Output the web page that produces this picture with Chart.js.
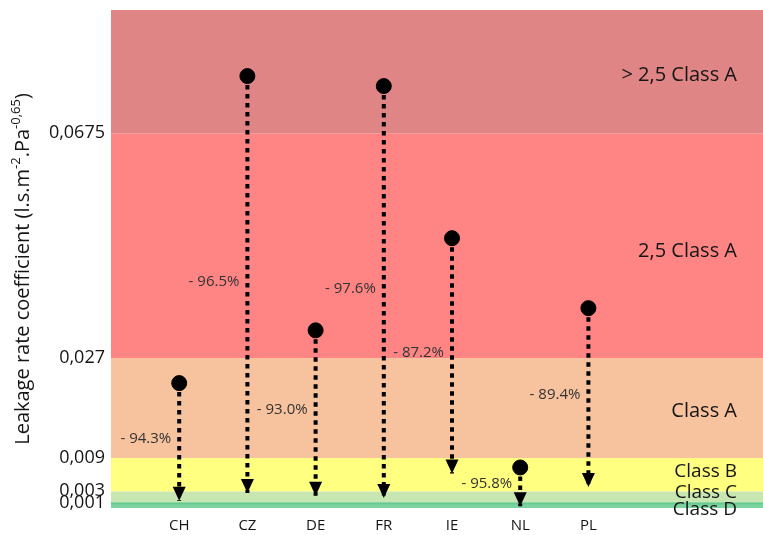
<!DOCTYPE html>
<html>
<head>
<meta charset="utf-8">
<script src="https://cdn.jsdelivr.net/npm/chart.js@4.4.1/dist/chart.umd.min.js"></script>
<style>
  html, body { margin: 0; padding: 0; background: #fff; }
  #wrap { width: 763px; height: 535px; }
</style>
</head>
<body>
<div id="wrap"><canvas id="leakChart"></canvas></div>
<script>
const countries = ['CH', 'CZ', 'DE', 'FR', 'IE', 'NL', 'PL'];
const before = [0.0225, 0.0778, 0.0320, 0.0760, 0.0486, 0.0073, 0.0360];
const after = [0.0013, 0.0027, 0.0022, 0.0018, 0.0062, 0.0003, 0.0038];
const reduction = ['- 94.3%', '- 96.5%', '- 93.0%', '- 97.6%', '- 87.2%', '- 95.8%', '- 89.4%'];
const yTicks = [0.001, 0.003, 0.009, 0.027, 0.0675];
const bandEdges = [0, 0.001, 0.003, 0.009, 0.027, 0.0675, 0.0897];
const bandNames = ['Class D', 'Class C', 'Class B', 'Class A', '2,5 Class A', '> 2,5 Class A'];

const bandColors = ['#7dd3a0', '#c8e6b1', '#ffff80', '#f7c39e', '#ff8585', '#e08585'];
const labelNudge = [4, -4, -3, 3, 6, 4];
const labelSize = [19, 19, 19, 20, 20, 20];
const FONT = '"Open Sans", sans-serif';

// coloured class bands + their names on the right
const bandsPlugin = {
  id: 'bands',
  beforeDatasetsDraw(chart) {
    const { ctx, chartArea, scales: { y } } = chart;
    ctx.save();
    for (let i = 0; i < bandNames.length; i++) {
      const top = y.getPixelForValue(bandEdges[i + 1]);
      const bot = y.getPixelForValue(bandEdges[i]);
      ctx.fillStyle = bandColors[i];
      ctx.fillRect(chartArea.left, top, chartArea.right - chartArea.left, bot - top);
    }
    // thin darker edge on top of class D
    const dTop = y.getPixelForValue(bandEdges[1]);
    ctx.fillStyle = '#66c990';
    ctx.fillRect(chartArea.left, dTop, chartArea.right - chartArea.left, 2);

    ctx.fillStyle = '#151515';
    ctx.textAlign = 'right';
    ctx.textBaseline = 'middle';
    for (let i = 0; i < bandNames.length; i++) {
      const mid = (y.getPixelForValue(bandEdges[i]) + y.getPixelForValue(bandEdges[i + 1])) / 2;
      ctx.font = labelSize[i] + 'px ' + FONT;
      ctx.fillText(bandNames[i], 737, mid + labelNudge[i]);
    }
    ctx.restore();
  },
  afterDatasetsDraw(chart) {
    const { ctx, scales: { x, y } } = chart;
    ctx.save();
    ctx.fillStyle = '#000';
    for (let i = 0; i < countries.length; i++) {
      const px = x.getPixelForValue(i + 1);
      const tip = y.getPixelForValue(after[i]);
      ctx.beginPath();
      ctx.moveTo(px - 6.5, tip - 14);
      ctx.lineTo(px + 6.5, tip - 14);
      ctx.lineTo(px, tip);
      ctx.closePath();
      ctx.fill();
    }
    ctx.fillStyle = '#333';
    ctx.font = '15px ' + FONT;
    ctx.textAlign = 'right';
    ctx.textBaseline = 'middle';
    for (let i = 0; i < countries.length; i++) {
      const px = x.getPixelForValue(i + 1);
      const mid = (y.getPixelForValue(before[i]) + y.getPixelForValue(after[i])) / 2;
      ctx.fillText(reduction[i], px - 8, mid - 3);
    }
    ctx.restore();
  }
};

// rotated axis title with superscripts
const titlePlugin = {
  id: 'yTitle',
  afterDraw(chart) {
    const ctx = chart.ctx;
    const parts = [
      ['Leakage rate coefficient (l.s.m', false],
      ['-2', true],
      ['.Pa', false],
      ['-0,65', true],
      [')', false]
    ];
    ctx.save();
    ctx.fillStyle = '#151515';
    ctx.textBaseline = 'alphabetic';
    ctx.textAlign = 'left';
    let total = 0;
    parts.forEach(p => {
      ctx.font = (p[1] ? '13px ' : '20px ') + FONT;
      total += ctx.measureText(p[0]).width;
    });
    ctx.translate(29, 269);
    ctx.rotate(-Math.PI / 2);
    let cx = -total / 2;
    parts.forEach(p => {
      ctx.font = (p[1] ? '13px ' : '20px ') + FONT;
      ctx.fillText(p[0], cx, p[1] ? -9 : 0);
      cx += ctx.measureText(p[0]).width;
    });
    ctx.restore();
  }
};

const datasets = [{
  type: 'scatter',
  data: countries.map((c, i) => ({ x: i + 1, y: before[i] })),
  backgroundColor: '#000',
  borderColor: '#000',
  pointRadius: 7.5,
  pointHoverRadius: 7.5
}];
countries.forEach((c, i) => {
  datasets.push({
    type: 'line',
    data: [{ x: i + 1, y: before[i] }, { x: i + 1, y: after[i] }],
    borderColor: '#000',
    borderWidth: 4,
    borderDash: [4.5, 4.5],
    borderCapStyle: 'butt',
    pointRadius: 0,
    fill: false
  });
});

new Chart(document.getElementById('leakChart'), {
  type: 'scatter',
  data: { datasets: datasets },
  options: {
    responsive: true,
    maintainAspectRatio: false,
    animation: false,
    layout: { autoPadding: false, padding: { top: 10, left: 0, right: 0, bottom: 0 } },
    plugins: {
      legend: { display: false },
      tooltip: { enabled: false }
    },
    scales: {
      x: {
        type: 'linear',
        min: 0,
        max: 9.56,
        grid: { display: false, drawTicks: false },
        border: { display: false },
        afterBuildTicks: s => { s.ticks = countries.map((c, i) => ({ value: i + 1 })); },
        afterFit: s => { s.height = 27; s.paddingLeft = 0; s.paddingRight = 0; },
        ticks: {
          autoSkip: false,
          maxRotation: 0,
          padding: 9,
          color: '#151515',
          font: { family: FONT, size: 15 },
          callback: v => countries[Math.round(v) - 1]
        }
      },
      y: {
        min: 0,
        max: bandEdges[bandEdges.length - 1],
        grid: { display: false, drawTicks: false },
        border: { display: false },
        afterBuildTicks: s => { s.ticks = yTicks.map(v => ({ value: v })); },
        afterFit: s => { s.width = 111; s.paddingTop = 0; s.paddingBottom = 0; },
        ticks: {
          autoSkip: false,
          padding: 6,
          color: '#151515',
          font: { family: FONT, size: 18 },
          callback: v => String(v).replace('.', ',')
        }
      }
    }
  },
  plugins: [bandsPlugin, titlePlugin]
});
</script>
</body>
</html>
